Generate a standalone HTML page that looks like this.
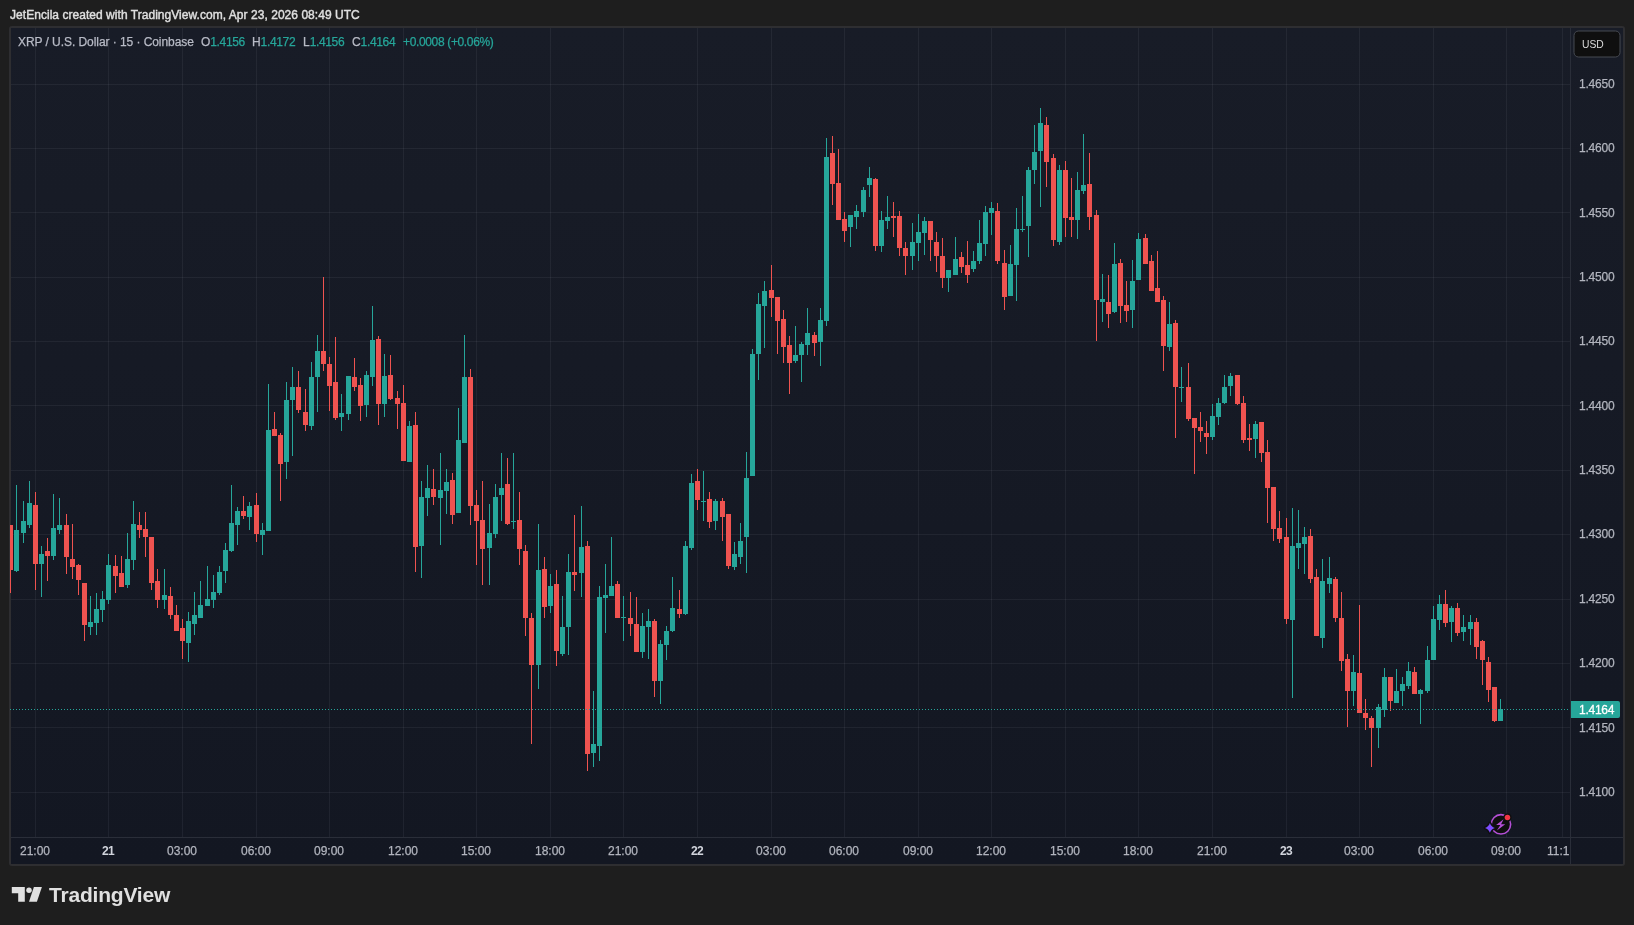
<!DOCTYPE html>
<html><head><meta charset="utf-8"><title>XRP / U.S. Dollar</title>
<style>
html,body{margin:0;padding:0;background:#1e1e1e;}
body{width:1634px;height:925px;position:relative;overflow:hidden;font-family:"Liberation Sans",sans-serif;}
.abs,.pl,.tl{will-change:transform}
.pl,.tl,.lg{-webkit-text-stroke:0.25px currentColor}
.chart{position:absolute;left:0;top:0;}
.abs{position:absolute;white-space:nowrap;}
.hdr{left:10px;top:8px;font-size:12px;line-height:15px;font-weight:normal;color:#e0e0e0;letter-spacing:0.04px;-webkit-text-stroke:0.4px #e0e0e0}
.lg{top:34px;font-size:12px;line-height:16px;color:#b8bbc6;letter-spacing:-0.06px}
.lg .v,.lg.v{letter-spacing:-0.35px}
.v{color:#26a69a;}
.pl{position:absolute;left:1579px;font-size:12px;line-height:16px;color:#b2b5be;letter-spacing:-0.22px;}
.tl{position:absolute;top:843px;width:60px;text-align:center;font-size:12px;line-height:16px;color:#b2b5be;letter-spacing:0px}
.tl.b{font-weight:bold;color:#d1d4dc;letter-spacing:-0.6px;-webkit-text-stroke:0}
.usd{left:1574px;top:31px;width:46px;height:26px;color:#dbdbdb;font-size:11.6px;line-height:26px;}
.usd span{position:absolute;left:8px;top:0px;display:inline-block;transform:scaleX(0.89);transform-origin:0 50%}
.cur{left:1571px;top:701px;width:49px;height:17px;background:#26a69a;border-radius:0 2px 2px 0;color:#fff;font-size:12px;line-height:17px;}
.cur span{position:absolute;left:8px;top:1px;letter-spacing:-0.25px;-webkit-text-stroke:0.3px #fff}
.tv{left:48.6px;top:882.6px;font-size:21px;line-height:24px;font-weight:bold;color:#e0e0e0;letter-spacing:-0.2px}
</style></head><body>
<svg class="chart" width="1634" height="925" viewBox="0 0 1634 925" shape-rendering="crispEdges">
<defs><linearGradient id="bg" x1="0" y1="0" x2="0" y2="1"><stop offset="0" stop-color="#181c27"/><stop offset="1" stop-color="#131722"/></linearGradient>
<clipPath id="cc"><rect x="10" y="28" width="1560" height="809"/></clipPath></defs>
<rect x="9" y="26" width="1616" height="840" rx="3" fill="#2e2e31" shape-rendering="auto"/>
<rect x="11" y="28" width="1612" height="836" fill="url(#bg)"/>
<g fill="#f0f3fa" fill-opacity="0.06"><rect x="35" y="28" width="1" height="809"/><rect x="108" y="28" width="1" height="809"/><rect x="182" y="28" width="1" height="809"/><rect x="256" y="28" width="1" height="809"/><rect x="329" y="28" width="1" height="809"/><rect x="403" y="28" width="1" height="809"/><rect x="476" y="28" width="1" height="809"/><rect x="550" y="28" width="1" height="809"/><rect x="623" y="28" width="1" height="809"/><rect x="697" y="28" width="1" height="809"/><rect x="771" y="28" width="1" height="809"/><rect x="844" y="28" width="1" height="809"/><rect x="918" y="28" width="1" height="809"/><rect x="991" y="28" width="1" height="809"/><rect x="1065" y="28" width="1" height="809"/><rect x="1138" y="28" width="1" height="809"/><rect x="1212" y="28" width="1" height="809"/><rect x="1286" y="28" width="1" height="809"/><rect x="1359" y="28" width="1" height="809"/><rect x="1433" y="28" width="1" height="809"/><rect x="1506" y="28" width="1" height="809"/><rect x="1562" y="28" width="1" height="809"/><rect x="11" y="84" width="1559" height="1"/><rect x="11" y="148" width="1559" height="1"/><rect x="11" y="212" width="1559" height="1"/><rect x="11" y="277" width="1559" height="1"/><rect x="11" y="341" width="1559" height="1"/><rect x="11" y="405" width="1559" height="1"/><rect x="11" y="470" width="1559" height="1"/><rect x="11" y="534" width="1559" height="1"/><rect x="11" y="599" width="1559" height="1"/><rect x="11" y="663" width="1559" height="1"/><rect x="11" y="727" width="1559" height="1"/><rect x="11" y="792" width="1559" height="1"/></g>
<rect x="1570" y="28" width="1" height="836" fill="#2a2e39"/>
<rect x="11" y="837" width="1612" height="1" fill="#2a2e39"/>
<g clip-path="url(#cc)"><path fill="#ef5350" d="M10 525h1v68h-1zM8 525h5v45h-5z"/><path fill="#26a69a" d="M16 485h1v87h-1zM14 530h5v41h-5z"/><path fill="#26a69a" d="M23 501h1v42h-1zM21 521h5v12h-5z"/><path fill="#26a69a" d="M29 481h1v47h-1zM27 503h5v22h-5z"/><path fill="#ef5350" d="M35 492h1v98h-1zM33 505h5v59h-5z"/><path fill="#26a69a" d="M41 546h1v51h-1zM39 554h5v10h-5z"/><path fill="#ef5350" d="M47 538h1v43h-1zM45 551h5v5h-5z"/><path fill="#26a69a" d="M53 494h1v66h-1zM51 528h5v28h-5z"/><path fill="#26a69a" d="M59 498h1v36h-1zM57 525h5v5h-5z"/><path fill="#ef5350" d="M66 514h1v60h-1zM64 525h5v32h-5z"/><path fill="#ef5350" d="M72 524h1v55h-1zM70 559h5v8h-5z"/><path fill="#ef5350" d="M78 564h1v31h-1zM76 565h5v15h-5z"/><path fill="#ef5350" d="M84 583h1v58h-1zM82 583h5v42h-5z"/><path fill="#26a69a" d="M90 596h1v39h-1zM88 622h5v5h-5z"/><path fill="#26a69a" d="M96 593h1v42h-1zM94 609h5v14h-5z"/><path fill="#26a69a" d="M102 591h1v31h-1zM100 599h5v11h-5z"/><path fill="#26a69a" d="M108 554h1v50h-1zM106 565h5v35h-5z"/><path fill="#ef5350" d="M115 555h1v38h-1zM113 566h5v10h-5z"/><path fill="#ef5350" d="M121 556h1v31h-1zM119 573h5v14h-5z"/><path fill="#26a69a" d="M127 533h1v55h-1zM125 559h5v26h-5z"/><path fill="#26a69a" d="M133 501h1v69h-1zM131 524h5v36h-5z"/><path fill="#ef5350" d="M139 512h1v26h-1zM137 525h5v5h-5z"/><path fill="#ef5350" d="M145 512h1v45h-1zM143 529h5v8h-5z"/><path fill="#ef5350" d="M151 537h1v53h-1zM149 537h5v46h-5z"/><path fill="#ef5350" d="M157 569h1v39h-1zM155 581h5v19h-5z"/><path fill="#26a69a" d="M164 569h1v40h-1zM162 595h5v5h-5z"/><path fill="#ef5350" d="M170 587h1v32h-1zM168 596h5v19h-5z"/><path fill="#ef5350" d="M176 605h1v26h-1zM174 615h5v16h-5z"/><path fill="#ef5350" d="M182 619h1v40h-1zM180 628h5v13h-5z"/><path fill="#26a69a" d="M188 612h1v50h-1zM186 621h5v22h-5z"/><path fill="#26a69a" d="M194 592h1v43h-1zM192 615h5v9h-5z"/><path fill="#26a69a" d="M200 581h1v37h-1zM198 605h5v13h-5z"/><path fill="#26a69a" d="M207 566h1v40h-1zM205 599h5v7h-5z"/><path fill="#26a69a" d="M213 575h1v33h-1zM211 592h5v8h-5z"/><path fill="#26a69a" d="M219 566h1v29h-1zM217 572h5v21h-5z"/><path fill="#26a69a" d="M225 543h1v40h-1zM223 550h5v21h-5z"/><path fill="#26a69a" d="M231 485h1v67h-1zM229 523h5v28h-5z"/><path fill="#26a69a" d="M237 507h1v38h-1zM235 511h5v14h-5z"/><path fill="#ef5350" d="M243 496h1v23h-1zM241 511h5v5h-5z"/><path fill="#26a69a" d="M249 502h1v28h-1zM247 506h5v11h-5z"/><path fill="#ef5350" d="M256 493h1v49h-1zM254 505h5v29h-5z"/><path fill="#26a69a" d="M262 523h1v32h-1zM260 530h5v5h-5z"/><path fill="#26a69a" d="M268 384h1v147h-1zM266 430h5v101h-5z"/><path fill="#ef5350" d="M274 412h1v24h-1zM272 429h5v7h-5z"/><path fill="#ef5350" d="M280 433h1v68h-1zM278 435h5v29h-5z"/><path fill="#26a69a" d="M286 382h1v97h-1zM284 400h5v62h-5z"/><path fill="#26a69a" d="M292 367h1v89h-1zM290 387h5v13h-5z"/><path fill="#ef5350" d="M298 371h1v42h-1zM296 387h5v23h-5z"/><path fill="#ef5350" d="M305 389h1v42h-1zM303 412h5v13h-5z"/><path fill="#26a69a" d="M311 362h1v68h-1zM309 377h5v49h-5z"/><path fill="#26a69a" d="M317 335h1v77h-1zM315 351h5v26h-5z"/><path fill="#ef5350" d="M323 277h1v94h-1zM321 351h5v13h-5z"/><path fill="#ef5350" d="M329 357h1v54h-1zM327 364h5v22h-5z"/><path fill="#ef5350" d="M335 337h1v83h-1zM333 382h5v36h-5z"/><path fill="#26a69a" d="M341 394h1v37h-1zM339 413h5v4h-5z"/><path fill="#26a69a" d="M348 376h1v44h-1zM346 376h5v38h-5z"/><path fill="#ef5350" d="M354 358h1v33h-1zM352 377h5v10h-5z"/><path fill="#ef5350" d="M360 378h1v43h-1zM358 385h5v21h-5z"/><path fill="#26a69a" d="M366 371h1v46h-1zM364 375h5v30h-5z"/><path fill="#26a69a" d="M372 306h1v80h-1zM370 340h5v37h-5z"/><path fill="#ef5350" d="M378 336h1v89h-1zM376 339h5v65h-5z"/><path fill="#26a69a" d="M384 354h1v63h-1zM382 376h5v28h-5z"/><path fill="#ef5350" d="M390 355h1v45h-1zM388 375h5v24h-5z"/><path fill="#ef5350" d="M397 391h1v38h-1zM395 398h5v6h-5z"/><path fill="#ef5350" d="M403 385h1v76h-1zM401 403h5v58h-5z"/><path fill="#26a69a" d="M409 421h1v41h-1zM407 426h5v36h-5z"/><path fill="#ef5350" d="M415 412h1v160h-1zM413 425h5v122h-5z"/><path fill="#26a69a" d="M421 481h1v97h-1zM419 497h5v49h-5z"/><path fill="#26a69a" d="M427 465h1v51h-1zM425 488h5v10h-5z"/><path fill="#ef5350" d="M433 469h1v36h-1zM431 489h5v8h-5z"/><path fill="#26a69a" d="M440 453h1v92h-1zM438 490h5v8h-5z"/><path fill="#26a69a" d="M446 469h1v45h-1zM444 482h5v9h-5z"/><path fill="#ef5350" d="M452 473h1v51h-1zM450 480h5v35h-5z"/><path fill="#26a69a" d="M458 408h1v105h-1zM456 440h5v73h-5z"/><path fill="#26a69a" d="M464 335h1v108h-1zM462 377h5v66h-5z"/><path fill="#ef5350" d="M470 369h1v156h-1zM468 377h5v129h-5z"/><path fill="#ef5350" d="M476 490h1v75h-1zM474 505h5v16h-5z"/><path fill="#ef5350" d="M482 481h1v104h-1zM480 520h5v29h-5z"/><path fill="#26a69a" d="M489 504h1v81h-1zM487 533h5v15h-5z"/><path fill="#26a69a" d="M495 484h1v54h-1zM493 497h5v37h-5z"/><path fill="#26a69a" d="M501 453h1v68h-1zM499 488h5v7h-5z"/><path fill="#ef5350" d="M507 458h1v67h-1zM505 484h5v40h-5z"/><path fill="#26a69a" d="M513 453h1v76h-1zM511 521h5v1h-5z"/><path fill="#ef5350" d="M519 492h1v73h-1zM517 520h5v29h-5z"/><path fill="#ef5350" d="M525 545h1v91h-1zM523 551h5v67h-5z"/><path fill="#ef5350" d="M531 613h1v131h-1zM529 618h5v47h-5z"/><path fill="#26a69a" d="M538 524h1v165h-1zM536 570h5v95h-5z"/><path fill="#ef5350" d="M544 557h1v61h-1zM542 569h5v38h-5z"/><path fill="#26a69a" d="M550 574h1v39h-1zM548 586h5v20h-5z"/><path fill="#ef5350" d="M556 570h1v96h-1zM554 584h5v67h-5z"/><path fill="#26a69a" d="M562 596h1v60h-1zM560 627h5v27h-5z"/><path fill="#26a69a" d="M568 554h1v101h-1zM566 572h5v55h-5z"/><path fill="#ef5350" d="M574 515h1v76h-1zM572 572h5v3h-5z"/><path fill="#26a69a" d="M581 506h1v91h-1zM579 547h5v26h-5z"/><path fill="#ef5350" d="M587 541h1v230h-1zM585 546h5v208h-5z"/><path fill="#26a69a" d="M593 691h1v76h-1zM591 744h5v9h-5z"/><path fill="#26a69a" d="M599 586h1v175h-1zM597 597h5v149h-5z"/><path fill="#26a69a" d="M605 564h1v69h-1zM603 595h5v3h-5z"/><path fill="#26a69a" d="M611 537h1v59h-1zM609 586h5v10h-5z"/><path fill="#ef5350" d="M617 581h1v37h-1zM615 584h5v34h-5z"/><path fill="#26a69a" d="M623 596h1v45h-1zM621 617h5v1h-5z"/><path fill="#ef5350" d="M630 592h1v44h-1zM628 618h5v6h-5z"/><path fill="#ef5350" d="M636 597h1v55h-1zM634 624h5v28h-5z"/><path fill="#26a69a" d="M642 613h1v45h-1zM640 626h5v26h-5z"/><path fill="#26a69a" d="M648 609h1v50h-1zM646 621h5v6h-5z"/><path fill="#ef5350" d="M654 619h1v78h-1zM652 621h5v60h-5z"/><path fill="#26a69a" d="M660 640h1v64h-1zM658 644h5v37h-5z"/><path fill="#26a69a" d="M666 626h1v34h-1zM664 631h5v14h-5z"/><path fill="#26a69a" d="M672 577h1v55h-1zM670 608h5v23h-5z"/><path fill="#ef5350" d="M679 590h1v28h-1zM677 609h5v5h-5z"/><path fill="#26a69a" d="M685 541h1v74h-1zM683 546h5v68h-5z"/><path fill="#26a69a" d="M691 474h1v76h-1zM689 483h5v65h-5z"/><path fill="#ef5350" d="M697 469h1v41h-1zM695 481h5v19h-5z"/><path fill="#26a69a" d="M703 471h1v50h-1zM701 501h5v1h-5z"/><path fill="#ef5350" d="M709 492h1v36h-1zM707 499h5v23h-5z"/><path fill="#26a69a" d="M715 499h1v31h-1zM713 501h5v20h-5z"/><path fill="#ef5350" d="M722 498h1v43h-1zM720 501h5v16h-5z"/><path fill="#ef5350" d="M728 514h1v55h-1zM726 514h5v52h-5z"/><path fill="#26a69a" d="M734 542h1v28h-1zM732 554h5v13h-5z"/><path fill="#26a69a" d="M740 523h1v41h-1zM738 541h5v16h-5z"/><path fill="#26a69a" d="M746 452h1v121h-1zM744 478h5v59h-5z"/><path fill="#26a69a" d="M752 349h1v127h-1zM750 354h5v122h-5z"/><path fill="#26a69a" d="M758 293h1v87h-1zM756 304h5v50h-5z"/><path fill="#26a69a" d="M764 281h1v67h-1zM762 291h5v15h-5z"/><path fill="#ef5350" d="M771 265h1v52h-1zM769 290h5v8h-5z"/><path fill="#ef5350" d="M777 297h1v57h-1zM775 297h5v24h-5z"/><path fill="#ef5350" d="M783 310h1v53h-1zM781 319h5v28h-5z"/><path fill="#ef5350" d="M789 336h1v58h-1zM787 345h5v18h-5z"/><path fill="#26a69a" d="M795 326h1v37h-1zM793 355h5v6h-5z"/><path fill="#26a69a" d="M801 342h1v40h-1zM799 344h5v11h-5z"/><path fill="#26a69a" d="M807 308h1v47h-1zM805 333h5v12h-5z"/><path fill="#ef5350" d="M814 332h1v24h-1zM812 335h5v8h-5z"/><path fill="#26a69a" d="M820 308h1v58h-1zM818 320h5v22h-5z"/><path fill="#26a69a" d="M826 138h1v188h-1zM824 157h5v164h-5z"/><path fill="#ef5350" d="M832 136h1v69h-1zM830 153h5v31h-5z"/><path fill="#ef5350" d="M838 149h1v71h-1zM836 183h5v37h-5z"/><path fill="#ef5350" d="M844 212h1v30h-1zM842 219h5v12h-5z"/><path fill="#26a69a" d="M850 215h1v32h-1zM848 215h5v12h-5z"/><path fill="#26a69a" d="M856 205h1v24h-1zM854 211h5v6h-5z"/><path fill="#26a69a" d="M863 187h1v30h-1zM861 190h5v22h-5z"/><path fill="#26a69a" d="M869 167h1v30h-1zM867 178h5v7h-5z"/><path fill="#ef5350" d="M875 178h1v73h-1zM873 179h5v67h-5z"/><path fill="#26a69a" d="M881 211h1v41h-1zM879 220h5v26h-5z"/><path fill="#26a69a" d="M887 196h1v33h-1zM885 217h5v4h-5z"/><path fill="#ef5350" d="M893 202h1v35h-1zM891 216h5v2h-5z"/><path fill="#ef5350" d="M899 211h1v45h-1zM897 216h5v32h-5z"/><path fill="#ef5350" d="M905 242h1v33h-1zM903 248h5v8h-5z"/><path fill="#26a69a" d="M912 223h1v47h-1zM910 242h5v14h-5z"/><path fill="#26a69a" d="M918 214h1v47h-1zM916 232h5v11h-5z"/><path fill="#26a69a" d="M924 217h1v38h-1zM922 221h5v12h-5z"/><path fill="#ef5350" d="M930 221h1v40h-1zM928 221h5v19h-5z"/><path fill="#ef5350" d="M936 232h1v40h-1zM934 242h5v14h-5z"/><path fill="#ef5350" d="M942 238h1v50h-1zM940 256h5v22h-5z"/><path fill="#26a69a" d="M948 270h1v22h-1zM946 270h5v8h-5z"/><path fill="#26a69a" d="M955 237h1v38h-1zM953 259h5v16h-5z"/><path fill="#ef5350" d="M961 252h1v21h-1zM959 257h5v10h-5z"/><path fill="#ef5350" d="M967 241h1v42h-1zM965 265h5v10h-5z"/><path fill="#26a69a" d="M973 251h1v21h-1zM971 261h5v8h-5z"/><path fill="#26a69a" d="M979 220h1v44h-1zM977 243h5v18h-5z"/><path fill="#26a69a" d="M985 206h1v50h-1zM983 212h5v32h-5z"/><path fill="#26a69a" d="M991 202h1v33h-1zM989 208h5v5h-5z"/><path fill="#ef5350" d="M997 203h1v61h-1zM995 211h5v50h-5z"/><path fill="#ef5350" d="M1004 250h1v60h-1zM1002 263h5v34h-5z"/><path fill="#26a69a" d="M1010 245h1v51h-1zM1008 264h5v32h-5z"/><path fill="#26a69a" d="M1016 208h1v93h-1zM1014 229h5v36h-5z"/><path fill="#26a69a" d="M1022 196h1v36h-1zM1020 229h5v1h-5z"/><path fill="#26a69a" d="M1028 167h1v90h-1zM1026 170h5v56h-5z"/><path fill="#26a69a" d="M1034 125h1v59h-1zM1032 152h5v18h-5z"/><path fill="#26a69a" d="M1040 108h1v99h-1zM1038 123h5v28h-5z"/><path fill="#ef5350" d="M1046 117h1v70h-1zM1044 125h5v37h-5z"/><path fill="#ef5350" d="M1053 154h1v92h-1zM1051 158h5v82h-5z"/><path fill="#26a69a" d="M1059 165h1v80h-1zM1057 170h5v72h-5z"/><path fill="#ef5350" d="M1065 161h1v76h-1zM1063 170h5v48h-5z"/><path fill="#ef5350" d="M1071 178h1v59h-1zM1069 217h5v3h-5z"/><path fill="#26a69a" d="M1077 172h1v67h-1zM1075 190h5v30h-5z"/><path fill="#26a69a" d="M1083 134h1v60h-1zM1081 185h5v6h-5z"/><path fill="#ef5350" d="M1089 153h1v77h-1zM1087 184h5v33h-5z"/><path fill="#ef5350" d="M1096 210h1v131h-1zM1094 215h5v85h-5z"/><path fill="#26a69a" d="M1102 274h1v48h-1zM1100 299h5v3h-5z"/><path fill="#ef5350" d="M1108 275h1v53h-1zM1106 302h5v12h-5z"/><path fill="#26a69a" d="M1114 243h1v70h-1zM1112 264h5v48h-5z"/><path fill="#ef5350" d="M1120 259h1v64h-1zM1118 263h5v43h-5z"/><path fill="#ef5350" d="M1126 281h1v41h-1zM1124 305h5v6h-5z"/><path fill="#26a69a" d="M1132 260h1v68h-1zM1130 281h5v29h-5z"/><path fill="#26a69a" d="M1138 233h1v47h-1zM1136 239h5v41h-5z"/><path fill="#ef5350" d="M1145 234h1v30h-1zM1143 238h5v26h-5z"/><path fill="#ef5350" d="M1151 255h1v36h-1zM1149 261h5v30h-5z"/><path fill="#ef5350" d="M1157 251h1v51h-1zM1155 288h5v14h-5z"/><path fill="#ef5350" d="M1163 296h1v75h-1zM1161 300h5v46h-5z"/><path fill="#26a69a" d="M1169 302h1v49h-1zM1167 324h5v23h-5z"/><path fill="#ef5350" d="M1175 320h1v118h-1zM1173 323h5v64h-5z"/><path fill="#26a69a" d="M1181 367h1v35h-1zM1179 387h5v1h-5z"/><path fill="#ef5350" d="M1188 363h1v58h-1zM1186 387h5v32h-5z"/><path fill="#ef5350" d="M1194 418h1v56h-1zM1192 418h5v10h-5z"/><path fill="#ef5350" d="M1200 412h1v30h-1zM1198 427h5v4h-5z"/><path fill="#ef5350" d="M1206 421h1v33h-1zM1204 433h5v4h-5z"/><path fill="#26a69a" d="M1212 404h1v36h-1zM1210 416h5v21h-5z"/><path fill="#26a69a" d="M1218 398h1v27h-1zM1216 403h5v14h-5z"/><path fill="#26a69a" d="M1224 375h1v29h-1zM1222 387h5v16h-5z"/><path fill="#26a69a" d="M1230 373h1v23h-1zM1228 376h5v10h-5z"/><path fill="#ef5350" d="M1237 375h1v30h-1zM1235 375h5v29h-5z"/><path fill="#ef5350" d="M1243 396h1v47h-1zM1241 403h5v37h-5z"/><path fill="#ef5350" d="M1249 424h1v27h-1zM1247 438h5v2h-5z"/><path fill="#26a69a" d="M1255 421h1v37h-1zM1253 424h5v15h-5z"/><path fill="#ef5350" d="M1261 422h1v40h-1zM1259 422h5v31h-5z"/><path fill="#ef5350" d="M1267 440h1v83h-1zM1265 452h5v36h-5z"/><path fill="#ef5350" d="M1273 487h1v54h-1zM1271 487h5v42h-5z"/><path fill="#ef5350" d="M1279 511h1v32h-1zM1277 528h5v11h-5z"/><path fill="#ef5350" d="M1286 518h1v106h-1zM1284 537h5v82h-5z"/><path fill="#26a69a" d="M1292 508h1v190h-1zM1290 546h5v74h-5z"/><path fill="#26a69a" d="M1298 510h1v59h-1zM1296 543h5v5h-5z"/><path fill="#26a69a" d="M1304 527h1v47h-1zM1302 537h5v7h-5z"/><path fill="#ef5350" d="M1310 529h1v54h-1zM1308 536h5v43h-5z"/><path fill="#ef5350" d="M1316 569h1v67h-1zM1314 577h5v59h-5z"/><path fill="#26a69a" d="M1322 559h1v89h-1zM1320 581h5v57h-5z"/><path fill="#26a69a" d="M1329 557h1v36h-1zM1327 578h5v6h-5z"/><path fill="#ef5350" d="M1335 577h1v45h-1zM1333 579h5v39h-5z"/><path fill="#ef5350" d="M1341 592h1v79h-1zM1339 618h5v43h-5z"/><path fill="#ef5350" d="M1347 654h1v73h-1zM1345 659h5v32h-5z"/><path fill="#26a69a" d="M1353 655h1v51h-1zM1351 672h5v19h-5z"/><path fill="#ef5350" d="M1359 605h1v108h-1zM1357 673h5v40h-5z"/><path fill="#ef5350" d="M1365 699h1v31h-1zM1363 713h5v5h-5z"/><path fill="#ef5350" d="M1371 716h1v51h-1zM1369 718h5v10h-5z"/><path fill="#26a69a" d="M1378 704h1v44h-1zM1376 707h5v21h-5z"/><path fill="#26a69a" d="M1384 668h1v49h-1zM1382 677h5v33h-5z"/><path fill="#ef5350" d="M1390 677h1v34h-1zM1388 677h5v24h-5z"/><path fill="#26a69a" d="M1396 669h1v34h-1zM1394 691h5v12h-5z"/><path fill="#26a69a" d="M1402 677h1v29h-1zM1400 684h5v7h-5z"/><path fill="#26a69a" d="M1408 662h1v27h-1zM1406 671h5v15h-5z"/><path fill="#ef5350" d="M1414 667h1v27h-1zM1412 672h5v22h-5z"/><path fill="#26a69a" d="M1420 689h1v35h-1zM1418 690h5v4h-5z"/><path fill="#26a69a" d="M1427 646h1v47h-1zM1425 660h5v31h-5z"/><path fill="#26a69a" d="M1433 606h1v54h-1zM1431 619h5v41h-5z"/><path fill="#26a69a" d="M1439 595h1v35h-1zM1437 604h5v16h-5z"/><path fill="#ef5350" d="M1445 590h1v37h-1zM1443 604h5v19h-5z"/><path fill="#26a69a" d="M1451 606h1v36h-1zM1449 608h5v14h-5z"/><path fill="#ef5350" d="M1457 603h1v33h-1zM1455 608h5v25h-5z"/><path fill="#26a69a" d="M1463 615h1v26h-1zM1461 627h5v5h-5z"/><path fill="#26a69a" d="M1470 615h1v30h-1zM1468 622h5v7h-5z"/><path fill="#ef5350" d="M1476 618h1v41h-1zM1474 622h5v25h-5z"/><path fill="#ef5350" d="M1482 640h1v45h-1zM1480 641h5v19h-5z"/><path fill="#ef5350" d="M1488 657h1v45h-1zM1486 662h5v28h-5z"/><path fill="#ef5350" d="M1494 687h1v35h-1zM1492 687h5v34h-5z"/><path fill="#26a69a" d="M1500 699h1v22h-1zM1498 709h5v12h-5z"/></g>
 <line x1="10" y1="709.5" x2="1570" y2="709.5" stroke="#26a69a" stroke-width="1" stroke-dasharray="1 2"/>
<rect x="1574" y="31" width="46" height="26" rx="4.5" fill="#0f0f0f" stroke="#474a52" stroke-width="1" shape-rendering="auto"/>
</svg>
<div class="abs hdr">JetEncila created with TradingView.com, Apr 23, 2026 08:49 UTC</div>
<div class="abs lg" id="l0" style="left:17.6px">XRP / U.S. Dollar · 15 · Coinbase</div>
<div class="abs lg" id="l1" style="left:201px">O<span class="v">1.4156</span></div>
<div class="abs lg" id="l2" style="left:252px">H<span class="v">1.4172</span></div>
<div class="abs lg" id="l3" style="left:303px">L<span class="v">1.4156</span></div>
<div class="abs lg" id="l4" style="left:352px">C<span class="v">1.4164</span></div>
<div class="abs lg v" id="l5" style="left:403px">+0.0008 (+0.06%)</div>
<div class="abs usd"><span>USD</span></div>
<div class="pl" style="top:76px">1.4650</div><div class="pl" style="top:140px">1.4600</div><div class="pl" style="top:205px">1.4550</div><div class="pl" style="top:269px">1.4500</div><div class="pl" style="top:333px">1.4450</div><div class="pl" style="top:398px">1.4400</div><div class="pl" style="top:462px">1.4350</div><div class="pl" style="top:526px">1.4300</div><div class="pl" style="top:591px">1.4250</div><div class="pl" style="top:655px">1.4200</div><div class="pl" style="top:720px">1.4150</div><div class="pl" style="top:784px">1.4100</div>
<div class="tl" style="left:5px">21:00</div><div class="tl b" style="left:78px">21</div><div class="tl" style="left:152px">03:00</div><div class="tl" style="left:226px">06:00</div><div class="tl" style="left:299px">09:00</div><div class="tl" style="left:373px">12:00</div><div class="tl" style="left:446px">15:00</div><div class="tl" style="left:520px">18:00</div><div class="tl" style="left:593px">21:00</div><div class="tl b" style="left:667px">22</div><div class="tl" style="left:741px">03:00</div><div class="tl" style="left:814px">06:00</div><div class="tl" style="left:888px">09:00</div><div class="tl" style="left:961px">12:00</div><div class="tl" style="left:1035px">15:00</div><div class="tl" style="left:1108px">18:00</div><div class="tl" style="left:1182px">21:00</div><div class="tl b" style="left:1256px">23</div><div class="tl" style="left:1329px">03:00</div><div class="tl" style="left:1403px">06:00</div><div class="tl" style="left:1476px">09:00</div>
<div class="abs" style="left:1541px;top:843px;width:29px;height:16px;overflow:hidden"><div class="tl" style="left:0;top:0;width:auto;text-align:left;margin-left:5.5px">11:15</div></div>
<div class="abs cur"><span>1.4164</span></div>
<svg class="abs" style="left:1480px;top:808px" width="40" height="34" viewBox="1480 808 40 34">
<circle cx="1500.95" cy="824.35" r="9.7" fill="#0f0f0f" stroke="#b44fd6" stroke-width="1.6"/>
<circle cx="1507.45" cy="817.55" r="4.1" fill="#0f0f0f"/>
<circle cx="1507.45" cy="817.55" r="2.75" fill="#f23645"/>
<g transform="translate(1489.9 827.9)">
<path d="M0 -4.9 Q1.2 -1.2 4.9 0 Q1.2 1.2 0 4.9 Q-1.2 1.2 -4.9 0 Q-1.2 -1.2 0 -4.9 Z" fill="#0f0f0f" stroke="#0f0f0f" stroke-width="2.8" stroke-linejoin="round"/>
<path d="M0 -4.9 Q1.2 -1.2 4.9 0 Q1.2 1.2 0 4.9 Q-1.2 1.2 -4.9 0 Q-1.2 -1.2 0 -4.9 Z" fill="#7c4dff"/>
</g>
<path transform="translate(1500.95 824.35) scale(1.1)" d="M2.4 -4.6 L-4.4 0.7 L-0.5 0.7 L-3.7 5.7 L3.9 -0.2 L0.1 -0.2 Z" fill="#b44fd6"/>
</svg>
<svg class="abs" style="left:11px;top:886px" width="32" height="17" viewBox="0 0 32 17" fill="#e0e0e0">
<path d="M0.8 1.1 H13.8 V15.8 H7.2 V7.2 H0.8 Z"/>
<circle cx="18" cy="4.3" r="2.75"/>
<path d="M22.9 1.1 H30.9 L25.9 15.8 H18 Z"/>
</svg>
<div class="abs tv">TradingView</div>
</body></html>
